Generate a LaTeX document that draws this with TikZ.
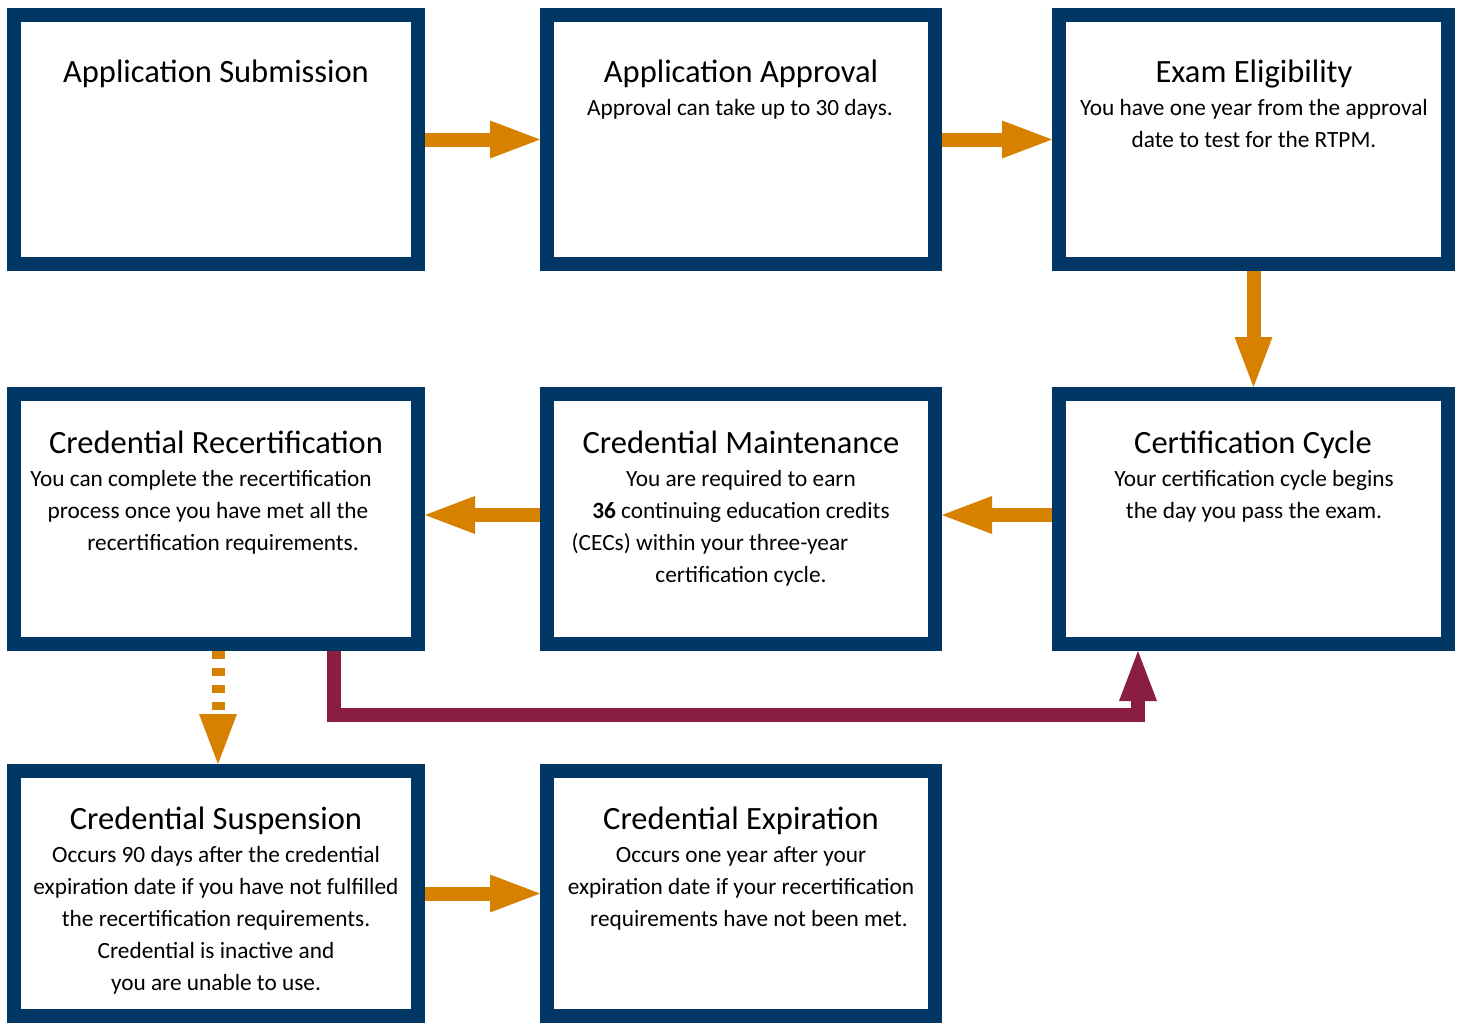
\documentclass[tikz,border=0pt]{standalone}
\usepackage{fontspec}
\setmainfont{Carlito}
\usetikzlibrary{arrows.meta}
\definecolor{navy}{RGB}{0,55,100}
\definecolor{amber}{RGB}{214,129,0}
\definecolor{wine}{RGB}{138,30,65}
\begin{document}
\begin{tikzpicture}[x=1pt,y=-1pt,
  box/.style={draw=navy,line width=14pt,inner sep=0pt},
  ttl/.style={anchor=base,font=\fontsize{32.5}{36}\selectfont,inner sep=0pt},
  txt/.style={anchor=base,font=\fontsize{23.3}{28}\selectfont,inner sep=0pt},
  tip/.style={-{Triangle[width=38pt,length=50pt,line width=0pt 0]}},
  flow/.style={draw=amber,line width=14pt,tip},
  back/.style={draw=wine,line width=14pt,tip}]
\useasboundingbox (0,0) rectangle (1462,1023);
% boxes
\node[box,minimum width=404pt,minimum height=249pt] (b1) at (216,139.5) {};
\node[box,minimum width=388pt,minimum height=249pt] (b2) at (741,139.5) {};
\node[box,minimum width=389pt,minimum height=249pt] (b3) at (1253.5,139.5) {};
\node[box,minimum width=404pt,minimum height=250pt] (b4) at (216,519) {};
\node[box,minimum width=388pt,minimum height=250pt] (b5) at (741,519) {};
\node[box,minimum width=389pt,minimum height=250pt] (b6) at (1253.5,519) {};
\node[box,minimum width=404pt,minimum height=245pt] (b7) at (216,893.5) {};
\node[box,minimum width=388pt,minimum height=245pt] (b8) at (741,893.5) {};
% texts row 1
\node[ttl] (t1) at (216,82) {Application Submission};
\node[ttl] (t2) at (741,82) {Application Approval};
\node[txt] (t2a) at (740,115) {Approval can take up to 30 days.};
\node[ttl] (t3) at (1254,82) {Exam Eligibility};
\node[txt] (t3a) at (1254,115) {You have one year from the approval};
\node[txt] (t3b) at (1254,147) {date to test for the RTPM.};
% texts row 2
\node[ttl] (t4) at (216,453) {Credential Recertification};
\node[txt] (t4a) at (201,486) {You can complete the recertification};
\node[txt] (t4b) at (208,518) {process once you have met all the};
\node[txt] (t4c) at (223,550) {recertification requirements.};
\node[ttl] (t5) at (741,453) {Credential Maintenance};
\node[txt] (t5a) at (741,486) {You are required to earn};
\node[txt] (t5b) at (741,518) {\textbf{36} continuing education credits};
\node[txt] (t5c) at (710,550) {(CECs) within your three-year};
\node[txt] (t5d) at (741,582) {certification cycle.};
\node[ttl] (t6) at (1253,453) {Certification Cycle};
\node[txt] (t6a) at (1254,486) {Your certification cycle begins};
\node[txt] (t6b) at (1254,518) {the day you pass the exam.};
% texts row 3
\node[ttl] (t7) at (216,829) {Credential Suspension};
\node[txt] (t7a) at (216,862) {Occurs 90 days after the credential};
\node[txt] (t7b) at (216,894) {expiration date if you have not fulfilled};
\node[txt] (t7c) at (216,926) {the recertification requirements.};
\node[txt] (t7d) at (216,958) {Credential is inactive and};
\node[txt] (t7e) at (216,990) {you are unable to use.};
\node[ttl] (t8) at (741,829) {Credential Expiration};
\node[txt] (t8a) at (741,862) {Occurs one year after your};
\node[txt] (t8b) at (741,894) {expiration date if your recertification};
\node[txt] (t8c) at (749,926) {requirements have not been met.};
% connectors
\draw[flow] (b1.east) -- (b2.west);
\draw[flow] (b2.east) -- (b3.west);
\draw[flow] (b3.south) -- (b6.north);
\draw[flow] ([yshift=4pt]b6.west) -- ([yshift=4pt]b5.east);
\draw[flow] ([yshift=4pt]b5.west) -- ([yshift=4pt]b4.east);
\draw[flow,line width=13pt,dash pattern=on 8pt off 9pt] ([xshift=2pt]b4.south) -- ([xshift=2pt]b7.north);
\draw[flow] (b7.east) -- (b8.west);
\draw[back] ([xshift=118pt]b4.south) |- ([xshift=-115.5pt,yshift=-64pt]b6.south) -- ([xshift=-115.5pt]b6.south);
\end{tikzpicture}
\end{document}
